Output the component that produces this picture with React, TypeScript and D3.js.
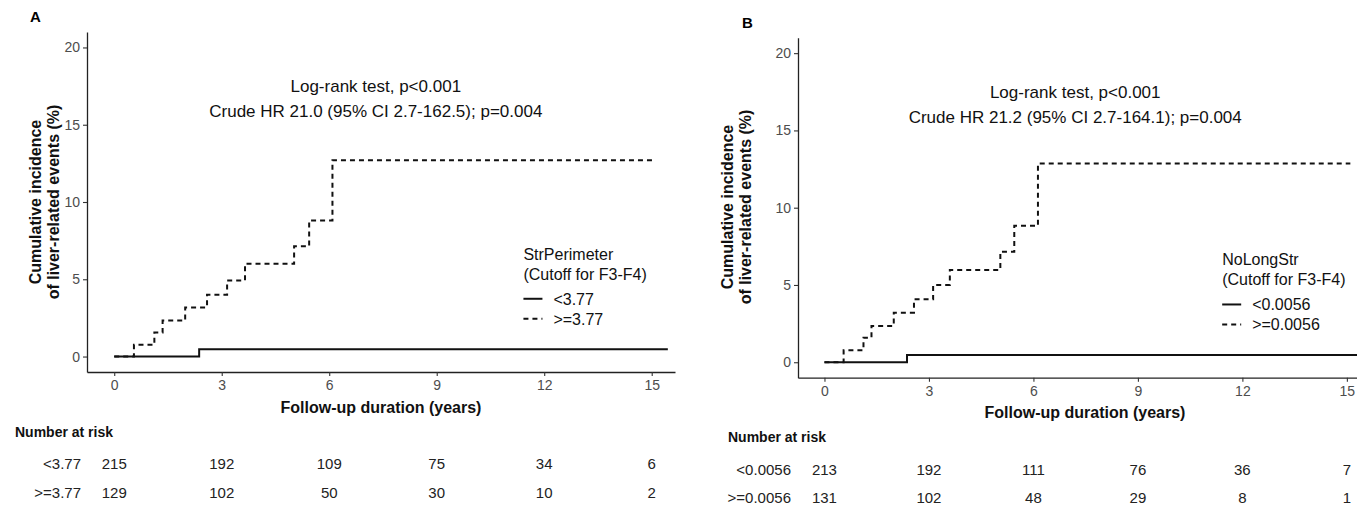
import * as d3 from 'd3';
import React, { useEffect, useRef } from 'react';

const FONT = "'Liberation Sans', Arial, sans-serif";

// shared axes
const timeTicks = [0, 3, 6, 9, 12, 15];
const incidenceTicks = [0, 5, 10, 15, 20];

// panel A: StrPerimeter
const timesA_low = [0, 2.37, 15.45];
const cumA_low = [0, 0.47, 0.47];
const timesA_high = [0, 0.55, 1.12, 1.35, 1.98, 2.59, 3.15, 3.65, 5.02, 5.44, 6.09, 15.05];
const cumA_high = [0, 0.76, 1.55, 2.33, 3.18, 4.0, 4.92, 6.0, 7.14, 8.81, 12.7, 12.7];
const riskA_low = [215, 192, 109, 75, 34, 6];
const riskA_high = [129, 102, 50, 30, 10, 2];
const groupsA = ['<3.77', '>=3.77'];

// panel B: NoLongStr
const timesB_low = [0, 2.37, 16];
const cumB_low = [0, 0.47, 0.47];
const timesB_high = [0, 0.55, 1.12, 1.35, 1.99, 2.57, 3.12, 3.6, 5.05, 5.45, 6.13, 15.1];
const cumB_high = [0, 0.78, 1.59, 2.35, 3.21, 4.07, 5.0, 5.97, 7.15, 8.83, 12.86, 12.86];
const riskB_low = [213, 192, 111, 76, 36, 7];
const riskB_high = [131, 102, 48, 29, 8, 1];
const groupsB = ['<0.0056', '>=0.0056'];

const panels = [
  {
    tag: 'A', tagX: 30, tagY: 22,
    left: 87, right: 675, top: 32, bottom: 372,
    yTitleX: 41, yTitleY: 202,
    xTitleX: 381, xTitleY: 413,
    annX: 7.3,
    lines: ['Log-rank test, p<0.001', 'Crude HR 21.0 (95% CI 2.7-162.5); p=0.004'],
    legendTitle: 'StrPerimeter',
    groups: groupsA,
    low: { t: timesA_low, v: cumA_low },
    high: { t: timesA_high, v: cumA_high },
    risk: [riskA_low, riskA_high],
    riskLabelX: 81, riskHeadX: 15, riskHeadY: 437, riskRowY: [469, 498],
  },
  {
    tag: 'B', tagX: 742, tagY: 28,
    left: 798, right: 1369.5, top: 37.7, bottom: 377.7,
    yTitleX: 733, yTitleY: 207,
    xTitleX: 1085, xTitleY: 418,
    annX: 7.2,
    lines: ['Log-rank test, p<0.001', 'Crude HR 21.2 (95% CI 2.7-164.1); p=0.004'],
    legendTitle: 'NoLongStr',
    groups: groupsB,
    low: { t: timesB_low, v: cumB_low },
    high: { t: timesB_high, v: cumB_high },
    risk: [riskB_low, riskB_high],
    riskLabelX: 791, riskHeadX: 728, riskHeadY: 442, riskRowY: [475, 503],
  },
];

const App: React.FC = () => {
  const ref = useRef<SVGSVGElement>(null);

  useEffect(() => {
    if (!ref.current) return;
    const svg = d3.select(ref.current);
    svg.selectAll('*').remove();

    panels.forEach(p => {
      const x = d3.scaleLinear().domain([-0.76, 15.65]).range([p.left, p.right]);
      const y = d3.scaleLinear().domain([-1, 21]).range([p.bottom, p.top]);
      const g = svg.append('g').attr('font-family', FONT);

      // panel tag
      g.append('text')
        .attr('x', p.tagX).attr('y', p.tagY)
        .attr('font-size', 15).attr('font-weight', 'bold')
        .text(p.tag);

      // axes
      const xAxis = g.append('g')
        .attr('transform', `translate(0,${p.bottom})`)
        .call(d3.axisBottom(x).tickValues(timeTicks).tickSize(4).tickSizeOuter(0).tickPadding(4));
      const yAxis = g.append('g')
        .attr('transform', `translate(${p.left},0)`)
        .call(d3.axisLeft(y).tickValues(incidenceTicks).tickSize(4).tickSizeOuter(0).tickPadding(3));
      [xAxis, yAxis].forEach(ax => {
        ax.attr('font-family', FONT).attr('font-size', 14);
        ax.select('.domain').attr('stroke', '#222').attr('stroke-width', 1.3);
        ax.selectAll('.tick line').attr('stroke', '#333').attr('stroke-width', 1.1);
        ax.selectAll('.tick text').attr('fill', '#4d4d4d');
      });

      // axis titles
      g.append('text')
        .attr('x', p.xTitleX).attr('y', p.xTitleY)
        .attr('text-anchor', 'middle').attr('font-size', 16).attr('font-weight', 'bold')
        .attr('fill', '#111')
        .text('Follow-up duration (years)');
      const yt = g.append('text')
        .attr('transform', `translate(${p.yTitleX},${p.yTitleY}) rotate(-90)`)
        .attr('text-anchor', 'middle').attr('font-size', 16).attr('font-weight', 'bold')
        .attr('fill', '#111');
      yt.append('tspan').attr('x', 0).attr('dy', 0).text('Cumulative incidence');
      yt.append('tspan').attr('x', 0).attr('dy', 18).text('of liver-related events (%)');

      // curves
      const line = d3.line<[number, number]>()
        .x(d => x(d[0]))
        .y(d => y(d[1]))
        .curve(d3.curveStepAfter);
      const lowPts = p.low.t.map((t, i) => [t, p.low.v[i]] as [number, number]);
      const highPts = p.high.t.map((t, i) => [t, p.high.v[i]] as [number, number]);
      g.append('path')
        .attr('d', line(highPts))
        .attr('fill', 'none').attr('stroke', '#111').attr('stroke-width', 2)
        .attr('stroke-dasharray', '5,4');
      g.append('path')
        .attr('d', line(lowPts))
        .attr('fill', 'none').attr('stroke', '#111').attr('stroke-width', 2);

      // annotations
      p.lines.forEach((txt, i) => {
        g.append('text')
          .attr('x', x(p.annX)).attr('y', y(i === 0 ? 17.1 : 15.5))
          .attr('text-anchor', 'middle').attr('font-size', 17).attr('fill', '#111')
          .text(txt);
      });

      // legend
      const lx = x(11.42);
      const ly = y(6.65);
      const leg = g.append('g').attr('font-size', 16).attr('fill', '#111');
      leg.append('text').attr('x', lx).attr('y', ly + 6).text(p.legendTitle);
      leg.append('text').attr('x', lx).attr('y', ly + 26).text('(Cutoff for F3-F4)');
      p.groups.forEach((grp, i) => {
        const ry = ly + 45 + i * 20;
        g.append('line')
          .attr('x1', lx).attr('x2', lx + 19).attr('y1', ry).attr('y2', ry)
          .attr('stroke', '#111').attr('stroke-width', 2)
          .attr('stroke-dasharray', i === 0 ? null : '5,4');
        leg.append('text').attr('x', lx + 30).attr('y', ry + 6).text(grp);
      });

      // number at risk table
      g.append('text')
        .attr('x', p.riskHeadX).attr('y', p.riskHeadY)
        .attr('font-size', 14).attr('font-weight', 'bold').attr('fill', '#111')
        .text('Number at risk');
      p.risk.forEach((row, r) => {
        g.append('text')
          .attr('x', p.riskLabelX).attr('y', p.riskRowY[r])
          .attr('text-anchor', 'end').attr('font-size', 15).attr('fill', '#222')
          .text(p.groups[r]);
        g.selectAll(null)
          .data(row)
          .enter().append('text')
          .attr('x', (_, i) => x(timeTicks[i]))
          .attr('y', p.riskRowY[r])
          .attr('text-anchor', 'middle').attr('font-size', 15).attr('fill', '#222')
          .text(d => d);
      });
    });
  }, []);

  return (
    <svg
      ref={ref}
      width={1357}
      height={505}
      style={{ position: 'absolute', left: 0, top: 0, background: '#fff' }}
    />
  );
};

export default App;
